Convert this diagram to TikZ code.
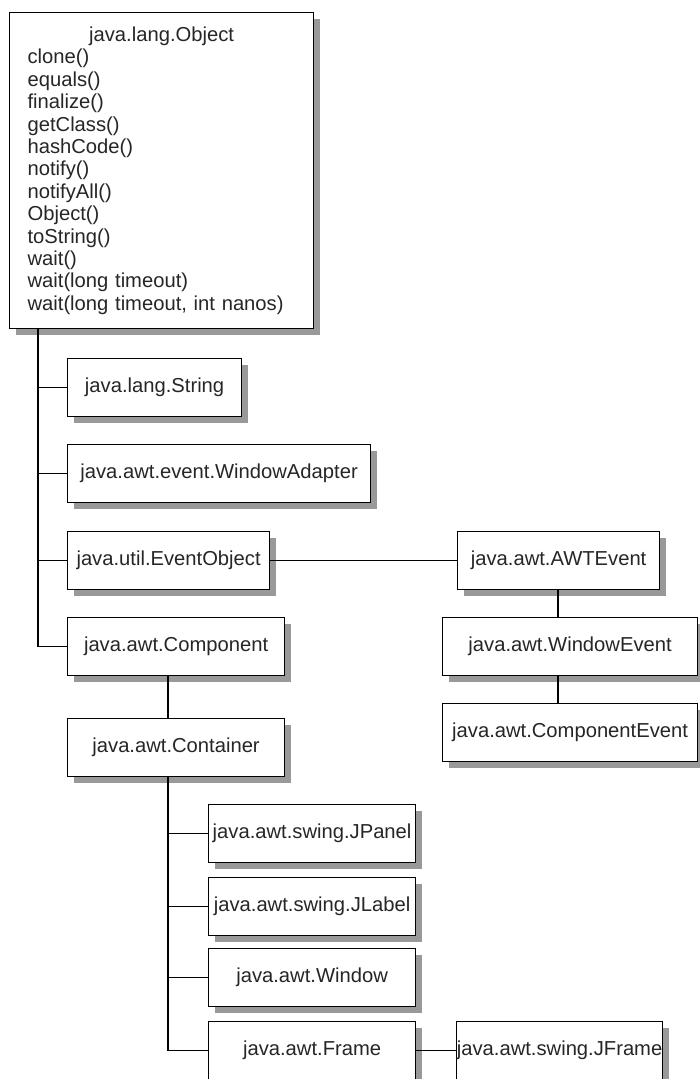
\documentclass[tikz,border=0pt]{standalone}
\usepackage{fontspec}
\setmainfont{Liberation Sans}
\usetikzlibrary{shadows}
\begin{document}
\begin{tikzpicture}[x=1pt,y=-1pt,
  cls/.style={draw=black, line width=1.2pt, fill=white, anchor=north west,
    minimum height=58pt, inner sep=0pt, text=black!85,
    font=\fontsize{20.2}{22.4}\selectfont,
    drop shadow={shadow xshift=6pt, shadow yshift=-6pt, fill=black!40, draw=none, opacity=1}},
  conn/.style={line width=1.2pt, draw=black}]
\useasboundingbox (0,0) rectangle (699,1079);
\fill[white] (0,0) rectangle (699,1079);

\node[cls, minimum width=304pt, minimum height=316pt, align=left,
      text width=268pt, inner xsep=18pt] (ob) at (9,12)
  {\makebox[268pt]{java.lang.Object}\\clone()\\equals()\\finalize()\\getClass()\\hashCode()\\notify()\\notifyAll()\\Object()\\toString()\\wait()\\wait(long timeout)\\wait(long timeout, int nanos)};

\node[cls, minimum width=174pt] (str) at (67,358) {java.lang.String};
\node[cls, minimum width=303pt] (wad) at (67,444) {java.awt.event.WindowAdapter};
\node[cls, minimum width=202pt] (evo) at (67,531) {java.util.EventObject};
\node[cls, minimum width=217pt] (cmp) at (67,617) {java.awt.Component};
\node[cls, minimum width=217pt] (cnt) at (67,718) {java.awt.Container};

\node[cls, minimum width=202pt] (awt) at (457,531) {java.awt.AWTEvent};
\node[cls, minimum width=255pt] (wev) at (442,617) {java.awt.WindowEvent};
\node[cls, minimum width=255pt] (cev) at (442,703) {java.awt.ComponentEvent};

\node[cls, minimum width=207pt] (jpn) at (208,804) {java.awt.swing.JPanel};
\node[cls, minimum width=207pt] (jlb) at (208,877) {java.awt.swing.JLabel};
\node[cls, minimum width=207pt] (win) at (208,948) {java.awt.Window};
\node[cls, minimum width=207pt] (frm) at (208,1021) {java.awt.Frame};
\node[cls, minimum width=206pt] (jfr) at (456,1021) {java.awt.swing.JFrame};

\coordinate (t1) at (38,0);
\coordinate (t2) at (168,0);
\coordinate (t3) at (558,0);

\draw[conn] (ob.south -| t1) |- (cmp.west);
\draw[conn] (str.west) -- (str.west -| t1);
\draw[conn] (wad.west) -- (wad.west -| t1);
\draw[conn] (evo.west) -- (evo.west -| t1);
\draw[conn] (evo.east) -- (awt.west);
\draw[conn] (awt.south -| t3) -- (wev.north -| t3);
\draw[conn] (wev.south -| t3) -- (cev.north -| t3);
\draw[conn] (cmp.south -| t2) -- (cnt.north -| t2);
\draw[conn] (cnt.south -| t2) |- (frm.west);
\draw[conn] (jpn.west) -- (jpn.west -| t2);
\draw[conn] (jlb.west) -- (jlb.west -| t2);
\draw[conn] (win.west) -- (win.west -| t2);
\draw[conn] (frm.east) -- (jfr.west);
\end{tikzpicture}
\end{document}
